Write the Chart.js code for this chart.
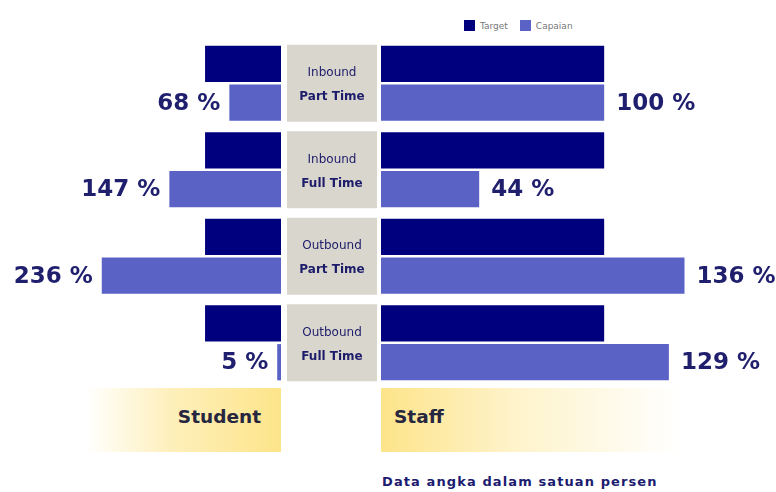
<!DOCTYPE html>
<html>
<head>
<meta charset="utf-8">
<script src="https://cdn.jsdelivr.net/npm/chart.js@4"></script>
<style>
  html, body { margin: 0; padding: 0; background: #ffffff; }
  #wrap { position: relative; width: 776px; height: 492px; overflow: hidden; font-family: "DejaVu Sans", sans-serif; }
  canvas { position: absolute; }
  #cL { left: 0; top: 40px; }
  #cR { left: 381px; top: 40px; }
  .box { position: absolute; top: 388px; height: 64px; }
  #stuBox { left: 85px; width: 196px; background: linear-gradient(to right, rgba(253,229,140,0), rgba(253,229,140,0.6) 45%, #fde48a); }
  #stfBox { left: 381px; width: 300px; background: linear-gradient(to right, #fde48a, rgba(253,229,140,0.45) 45%, rgba(253,229,140,0)); }
  .side { position: absolute; top: 406px; font-weight: bold; font-size: 18.5px; color: #262640; }
  #stuTxt { right: 515px; }
  #stfTxt { left: 394px; }
  #foot { position: absolute; left: 382px; top: 474px; font-size: 13px; letter-spacing: 1.1px; font-weight: bold; color: #1c1c70; }
  #legend { position: absolute; top: 20px; left: 464px; font-size: 9px; color: #777; display: flex; align-items: center; }
  #legend span.sw { display: inline-block; width: 11px; height: 11px; margin-right: 5px; }
  #legend span.lb { margin-right: 12px; }
</style>
</head>
<body>
<div id="wrap">
  <div class="box" id="stuBox"></div>
  <div class="box" id="stfBox"></div>
  <canvas id="cL" width="381" height="346"></canvas>
  <canvas id="cR" width="395" height="346"></canvas>
  <div class="side" id="stuTxt">Student</div>
  <div class="side" id="stfTxt">Staff</div>
  <div id="foot">Data angka dalam satuan persen</div>
  <div id="legend"></div>
</div>
<script>
const categories = [["Inbound", "Part Time"], ["Inbound", "Full Time"], ["Outbound", "Part Time"], ["Outbound", "Full Time"]];
const seriesNames = ["Target", "Capaian"];
const studentTarget = [100, 100, 100, 100];
const studentCapaian = [68, 147, 236, 5];
const staffTarget = [100, 100, 100, 100];
const staffCapaian = [100, 44, 136, 129];
const colors = ["#00007f", "#5a62c6"];

const legendEl = document.getElementById('legend');
seriesNames.forEach((n, i) => {
  legendEl.innerHTML += '<span class="sw" style="background:' + colors[i] + '"></span><span class="lb">' + n + '</span>';
});

const valueLabels = {
  id: 'valueLabels',
  afterDatasetsDraw(chart, args, opts) {
    const ctx = chart.ctx;
    const meta = chart.getDatasetMeta(1);
    const data = chart.data.datasets[1].data;
    ctx.save();
    ctx.font = 'bold 23px "DejaVu Sans"';
    ctx.fillStyle = '#1f1f6e';
    ctx.textBaseline = 'middle';
    meta.data.forEach((el, i) => {
      const txt = data[i] + ' %';
      if (opts.side === 'left') {
        ctx.textAlign = 'right';
        ctx.fillText(txt, el.x - 9, el.y + 1);
      } else {
        ctx.textAlign = 'left';
        ctx.fillText(txt, el.x + 12, el.y + 1);
      }
    });
    ctx.restore();
  }
};

const centerBoxes = {
  id: 'centerBoxes',
  beforeDatasetsDraw(chart) {
    const ctx = chart.ctx;
    const ys = chart.scales.y;
    ctx.save();
    categories.forEach((c, i) => {
      const yc = ys.getPixelForValue(i);
      ctx.fillStyle = '#d9d6cd';
      ctx.fillRect(287, yc - 38.5, 90, 77);
      ctx.fillStyle = '#1c1c6a';
      ctx.textAlign = 'center';
      ctx.textBaseline = 'middle';
      ctx.font = '12px "DejaVu Sans"';
      ctx.fillText(c[0], 332, yc - 10);
      ctx.font = 'bold 12px "DejaVu Sans"';
      ctx.fillText(c[1], 332, yc + 14);
    });
    ctx.restore();
  }
};

function makeChart(id, tgt, cap, max, reverse, padRight, side) {
  return new Chart(document.getElementById(id), {
    type: 'bar',
    data: {
      labels: categories.map(c => c.join(' ')),
      datasets: [
        { label: seriesNames[0], data: tgt, backgroundColor: colors[0], barPercentage: 0.93, categoryPercentage: 0.9 },
        { label: seriesNames[1], data: cap, backgroundColor: colors[1], barPercentage: 0.93, categoryPercentage: 0.9 }
      ]
    },
    options: {
      indexAxis: 'y',
      responsive: false,
      animation: false,
      devicePixelRatio: 1,
      layout: { padding: { left: 0, right: padRight, top: 0, bottom: 0 } },
      scales: {
        x: { display: false, min: 0, max: max, reverse: reverse },
        y: { display: false }
      },
      plugins: {
        legend: { display: false },
        tooltip: { enabled: false },
        valueLabels: { side: side }
      }
    },
    plugins: side === 'left' ? [centerBoxes, valueLabels] : [valueLabels]
  });
}

makeChart('cL', studentTarget, studentCapaian, 370, true, 100, 'left');
makeChart('cR', staffTarget, staffCapaian, 177, false, 0, 'right');
</script>
</body>
</html>
